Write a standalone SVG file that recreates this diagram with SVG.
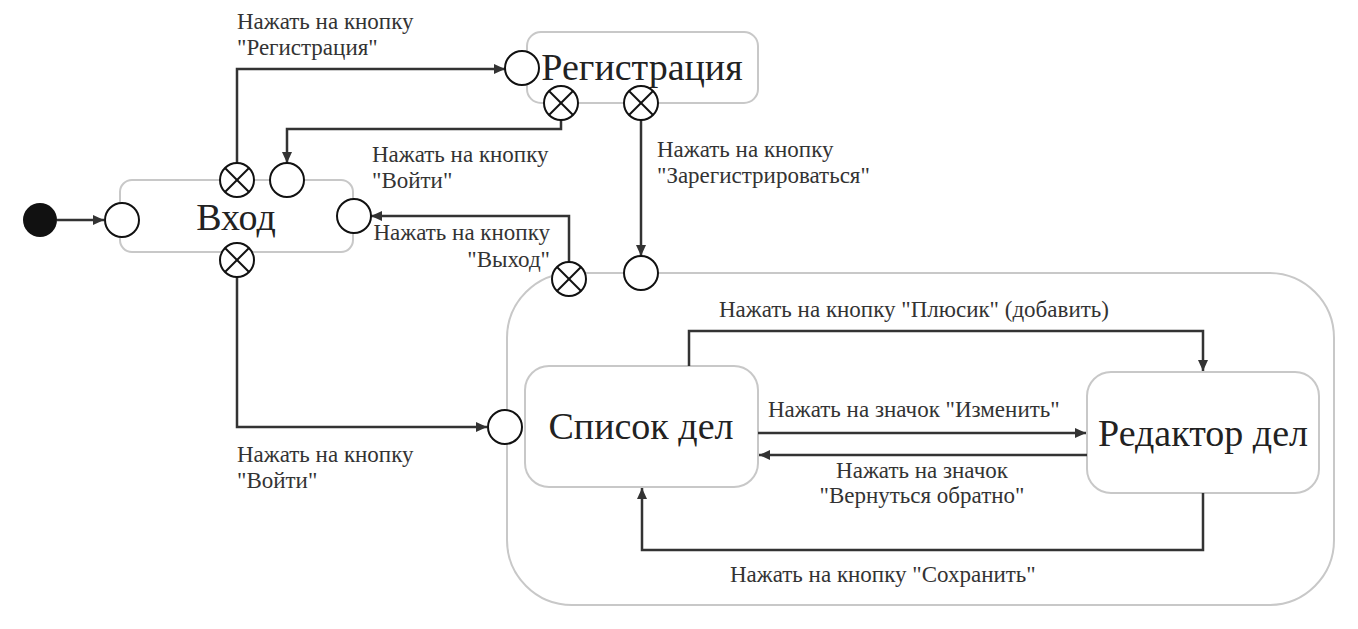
<svg xmlns="http://www.w3.org/2000/svg" width="1358" height="629" viewBox="0 0 1358 629" font-family="Times New Roman">
<defs>
<marker id="arr" markerUnits="userSpaceOnUse" markerWidth="12" markerHeight="10" refX="11" refY="5" orient="auto">
<path d="M0,0 L11,5 L0,10 z" fill="#333"/>
</marker>
<g id="exitPort">
<circle cx="0" cy="0" r="17" fill="#fff" stroke="#111" stroke-width="2"/>
<line x1="-12" y1="-12" x2="12" y2="12" stroke="#111" stroke-width="2"/>
<line x1="-12" y1="12" x2="12" y2="-12" stroke="#111" stroke-width="2"/>
</g>
<circle id="entryPort" cx="0" cy="0" r="17" fill="#fff" stroke="#111" stroke-width="2"/>
</defs>
<rect width="1358" height="629" fill="#fff"/>

<g id="composite">
<rect x="507" y="273" width="827" height="332" rx="65" fill="#fff" stroke="#c8c8c8" stroke-width="2"/>
</g>
<g id="vhod">
<rect x="120" y="180" width="233" height="72" rx="12" fill="#fff" stroke="#c8c8c8" stroke-width="2"/>
<text x="236" y="230" font-family="Times New Roman" font-size="38" fill="#222" text-anchor="middle">Вход</text>
</g>
<g id="registration">
<rect x="527" y="32" width="231" height="71" rx="14" fill="#fff" stroke="#c8c8c8" stroke-width="2"/>
<text x="642" y="80" font-family="Times New Roman" font-size="38" fill="#222" text-anchor="middle">Регистрация</text>
</g>
<g id="spisok">
<rect x="525" y="366" width="233" height="121" rx="24" fill="#fff" stroke="#c8c8c8" stroke-width="2"/>
<text x="641" y="439" font-family="Times New Roman" font-size="38" fill="#222" text-anchor="middle">Список дел</text>
</g>
<g id="redaktor">
<rect x="1087" y="372" width="232" height="121" rx="24" fill="#fff" stroke="#c8c8c8" stroke-width="2"/>
<text x="1203" y="446" font-family="Times New Roman" font-size="38" fill="#222" text-anchor="middle">Редактор дел</text>
</g>

<g id="connectors" fill="none" stroke="#333" stroke-width="2.5" marker-end="url(#arr)">
<path d="M57,220 H104"/>
<path d="M237,163 V69 H505"/>
<path d="M561,120 V129 H287 V163"/>
<path d="M641,120 V256"/>
<path d="M569,262 V216 H371"/>
<path d="M237,277 V427 H487"/>
<path d="M689,366 V331 H1203 V371"/>
<path d="M758,433 H1086"/>
<path d="M1087,455 H759"/>
<path d="M1203,493 V550 H642 V488"/>
</g>

<g id="labels">
<text x="237" y="29" font-family="Times New Roman" font-size="23" fill="#333">Нажать на кнопку</text>
<text x="237" y="55" font-family="Times New Roman" font-size="23" fill="#333">"Регистрация"</text>
<text x="372" y="162" font-family="Times New Roman" font-size="23" fill="#333">Нажать на кнопку</text>
<text x="372" y="188" font-family="Times New Roman" font-size="23" fill="#333">"Войти"</text>
<text x="657" y="157" font-family="Times New Roman" font-size="23" fill="#333">Нажать на кнопку</text>
<text x="657" y="183" font-family="Times New Roman" font-size="23" fill="#333">"Зарегистрироваться"</text>
<text x="550" y="240" font-family="Times New Roman" font-size="23" fill="#333" text-anchor="end">Нажать на кнопку</text>
<text x="550" y="267" font-family="Times New Roman" font-size="23" fill="#333" text-anchor="end">"Выход"</text>
<text x="237" y="462" font-family="Times New Roman" font-size="23" fill="#333">Нажать на кнопку</text>
<text x="237" y="488" font-family="Times New Roman" font-size="23" fill="#333">"Войти"</text>
<text x="719" y="317" font-family="Times New Roman" font-size="23" fill="#333">Нажать на кнопку "Плюсик" (добавить)</text>
<text x="768" y="417" font-family="Times New Roman" font-size="23" fill="#333">Нажать на значок "Изменить"</text>
<text x="922" y="478" font-family="Times New Roman" font-size="23" fill="#333" text-anchor="middle">Нажать на значок</text>
<text x="922" y="503" font-family="Times New Roman" font-size="23" fill="#333" text-anchor="middle">"Вернуться обратно"</text>
<text x="730" y="582" font-family="Times New Roman" font-size="23" fill="#333">Нажать на кнопку "Сохранить"</text>
</g>

<g id="initial">
<circle cx="40" cy="220" r="17" fill="#111"/>
</g>
<g id="ports">
<use href="#entryPort" x="122" y="220"/>
<use href="#exitPort" x="237" y="180"/>
<use href="#entryPort" x="287" y="180"/>
<use href="#entryPort" x="354" y="216"/>
<use href="#exitPort" x="237" y="260"/>
<use href="#entryPort" x="522" y="68"/>
<use href="#exitPort" x="561" y="103"/>
<use href="#exitPort" x="641" y="103"/>
<use href="#exitPort" x="569" y="279"/>
<use href="#entryPort" x="641" y="273"/>
<use href="#entryPort" x="505" y="427"/>
</g>
</svg>
